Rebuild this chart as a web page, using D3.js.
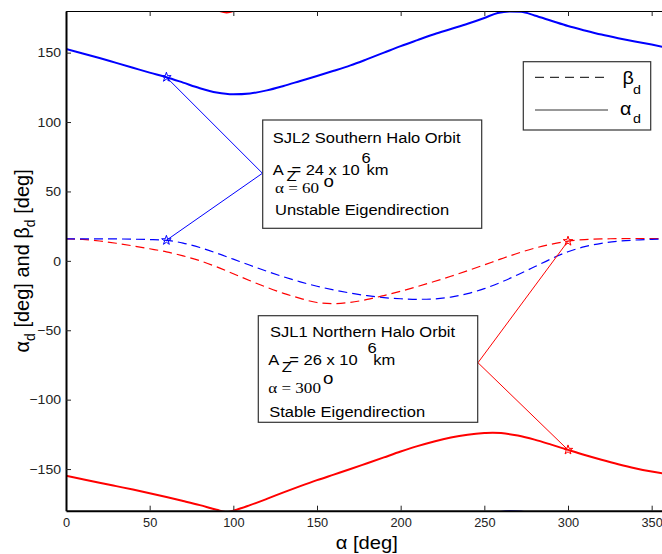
<!DOCTYPE html>
<html><head><meta charset="utf-8">
<script src="https://cdn.jsdelivr.net/npm/d3@7"></script>
<style>body{margin:0;background:#fff}svg{display:block}</style>
</head><body><svg id="c" width="662" height="554"></svg>
<script>
// ---- data ----
const xTicks = [0, 50, 100, 150, 200, 250, 300, 350];
const yTicks = [-150, -100, -50, 0, 50, 100, 150];

// SJL2 southern halo orbit (blue)
const blueAlphaAngles = [0,10,20,30,40,50,60,70,80,90,100,110,120,130,140,150,160,170,180,190,200,210,220,230,240,250,258,265,272,280,290,300,310,320,330,340,350,360];
const blueAlphaD = [152.6,149.4,146.1,142.6,139.1,135.6,132.3,128.4,124.4,121.3,120.0,120.6,122.8,126.0,129.6,133.2,136.9,140.8,145.3,150.0,154.7,159.0,163.2,167.0,170.8,175.0,178.6,179.7,179.4,176.8,173.0,169.2,166.0,163.0,160.4,158.0,155.8,153.4];
const betaAngles = [0,10,20,30,40,50,60,70,80,90,100,110,120,130,140,150,160,170,180,190,200,210,220,230,240,250,260,270,280,290,300,310,320,330,340,350,360];
const blueBetaD = [15.8,15.9,15.9,15.8,15.6,15.3,14.8,12.8,9.6,5.6,1.2,-3.2,-7.5,-11.5,-15.1,-18.3,-20.9,-23.2,-25.1,-26.5,-27.3,-27.7,-27.4,-26.1,-23.6,-20.0,-15.4,-10.0,-4.3,1.5,6.6,10.2,12.6,14.1,15.0,15.5,15.8];

// SJL1 northern halo orbit (red); alpha_d given unwrapped (values below -180 wrap to the top)
const redAlphaAngles = [0,10,20,30,40,50,60,70,80,90,96,102,110,120,130,140,150,160,170,180,190,200,210,220,230,240,250,255,260,270,280,290,300,310,320,330,340,350,360];
const redAlphaD = [-154.8,-157.3,-159.8,-162.3,-164.8,-167.4,-170.1,-173.0,-176.0,-179.3,-181.0,-179.3,-176.0,-171.5,-166.8,-162.3,-158.0,-154.0,-150.0,-145.8,-141.6,-137.4,-133.5,-130.1,-127.3,-125.3,-124.1,-123.8,-124.1,-125.9,-128.8,-132.4,-136.2,-139.9,-143.3,-146.5,-149.4,-151.8,-153.8];
const redBetaD = [15.8,15.4,14.3,12.7,10.8,8.7,6.5,3.6,0.1,-4.3,-9.3,-14.3,-19.1,-23.4,-27.0,-30.0,-30.8,-29.9,-27.8,-25.0,-21.9,-18.5,-14.9,-11.1,-7.1,-2.9,1.4,5.5,9.1,12.0,14.2,15.3,15.8,16.0,16.1,16.1,16.0];

// marked points (alpha = 60 and alpha = 300) and annotation pivots
const blueMarkAngle = 60, blueMarkAlpha = 132.3, blueMarkBeta = 14.8;
const redMarkAngle = 300, redMarkAlpha = -136.2, redMarkBeta = 14.2;
const bluePivot = [117.4, 63.1];
const redPivot = [246.2, -73.4];

// ---- drawing ----
const svg = d3.select("#c");
const x = d3.scaleLinear().domain([0, 360]).range([66, 668.4]);
const y = d3.scaleLinear().domain([-180, 180]).range([510.7, 11]);
const SANS = "'Liberation Sans', Arial, Helvetica, sans-serif";
const SERIF = "'Liberation Serif', 'Times New Roman', serif";
const BLUE = "#0000ff", RED = "#ff0000";

svg.append("defs").append("clipPath").attr("id", "pc")
  .append("rect").attr("x", 66).attr("y", 11).attr("width", 602.4).attr("height", 499.7);
const plot = svg.append("g").attr("clip-path", "url(#pc)");

const line = d3.line().x(d => x(d[0])).y(d => y(d[1])).curve(d3.curveMonotoneX);
function series(angles, vals, shift) { return angles.map((a, i) => [a, vals[i] + shift]); }

// dashed beta curves
plot.append("path").attr("d", line(series(betaAngles, redBetaD, 0)))
  .attr("fill", "none").attr("stroke", RED).attr("stroke-width", 1.2).attr("stroke-dasharray", "9,5");
plot.append("path").attr("d", line(series(betaAngles, blueBetaD, 0)))
  .attr("fill", "none").attr("stroke", BLUE).attr("stroke-width", 1.2).attr("stroke-dasharray", "9,5");
// solid alpha curves (draw wrapped copies at +-360 so the angle wraps at the axis limits)
[0, -360].forEach(s => plot.append("path").attr("d", line(series(blueAlphaAngles, blueAlphaD, s)))
  .attr("fill", "none").attr("stroke", BLUE).attr("stroke-width", 2));
[0, 360].forEach(s => plot.append("path").attr("d", line(series(redAlphaAngles, redAlphaD, s)))
  .attr("fill", "none").attr("stroke", RED).attr("stroke-width", 2));

// annotation lines
function annot(p, a, b, col) {
  plot.append("path").attr("d", d3.line()([[x(a[0]), y(a[1])], [x(p[0]), y(p[1])], [x(b[0]), y(b[1])]]))
    .attr("fill", "none").attr("stroke", col).attr("stroke-width", 1);
}
annot(bluePivot, [blueMarkAngle, blueMarkAlpha], [blueMarkAngle, blueMarkBeta], BLUE);
annot(redPivot, [redMarkAngle, redMarkBeta], [redMarkAngle, redMarkAlpha], RED);

// star markers
const star = d3.symbol().type(d3.symbolStar).size(28);
[[blueMarkAngle, blueMarkAlpha, BLUE], [blueMarkAngle, blueMarkBeta, BLUE],
 [redMarkAngle, redMarkBeta, RED], [redMarkAngle, redMarkAlpha, RED]].forEach(d => {
  plot.append("path").attr("d", star()).attr("transform", `translate(${x(d[0])},${y(d[1])})`)
    .attr("fill", "none").attr("stroke", d[2]).attr("stroke-width", 1);
});

// text helper (reference text is slightly stretched horizontally)
function txt(g, px, py, str, size, opt = {}) {
  const sx = opt.sx || 1.1;
  return g.append("text").attr("transform", `translate(${px},${py}) scale(${sx},1)`)
    .attr("font-family", opt.fam || SANS).attr("font-size", size)
    .attr("text-anchor", opt.anchor || "start").attr("fill", opt.fill || "#000").text(str);
}

// annotation boxes
const ann = svg.append("g");
function box(x0, y0, w, h) {
  ann.append("rect").attr("x", x0).attr("y", y0).attr("width", w).attr("height", h)
    .attr("fill", "#fff").attr("stroke", "#333").attr("stroke-width", 1.2);
}
box(262.7, 120, 219, 108.3);
txt(ann, 272.7, 143.3, "SJL2 Southern Halo Orbit", 15);
txt(ann, 272.7, 175, "A", 15);
txt(ann, 286.5, 180.7, "Z", 15);
txt(ann, 291.5, 175, "= 24 x 10", 15);
txt(ann, 361.5, 163, "6", 15);
txt(ann, 366.5, 175, "km", 15);
txt(ann, 275, 193.3, "\u03B1 = 60", 15.5, {fam: SERIF});
txt(ann, 323.5, 187, "o", 17);
txt(ann, 275, 215, "Unstable Eigendirection", 15);

box(258.3, 315.7, 219.4, 106.6);
txt(ann, 270, 336.7, "SJL1 Northern Halo Orbit", 15);
txt(ann, 268.3, 365, "A", 15);
txt(ann, 281.7, 371.5, "Z", 15);
txt(ann, 289.3, 365, "= 26 x 10", 15);
txt(ann, 367.5, 353.3, "6", 15);
txt(ann, 373.3, 365, "km", 15);
txt(ann, 268.3, 393.3, "\u03B1 = 300", 15.5, {fam: SERIF});
txt(ann, 323, 384, "o", 17);
txt(ann, 269.3, 416.7, "Stable Eigendirection", 15);

// legend
const lg = svg.append("g");
lg.append("rect").attr("x", 523.3).attr("y", 61.7).attr("width", 127.4).attr("height", 68.3)
  .attr("fill", "#fff").attr("stroke", "#333").attr("stroke-width", 1.2);
lg.append("line").attr("x1", 535).attr("x2", 610).attr("y1", 77.3).attr("y2", 77.3)
  .attr("stroke", "#000").attr("stroke-width", 1).attr("stroke-dasharray", "9,6");
lg.append("line").attr("x1", 535).attr("x2", 608).attr("y1", 110).attr("y2", 110)
  .attr("stroke", "#333").attr("stroke-width", 1);
txt(lg, 622.5, 83.5, "\u03B2", 18);
txt(lg, 633, 94, "d", 13);
txt(lg, 620, 115, "\u03B1", 18);
txt(lg, 633, 122.7, "d", 13);

// axes
const ax = svg.append("g");
const xb = ax.append("g").attr("transform", "translate(0,510.7)")
  .call(d3.axisBottom(x).tickValues(xTicks).tickSizeInner(-5).tickSizeOuter(0).tickPadding(7));
const xt = ax.append("g").attr("transform", "translate(0,11)")
  .call(d3.axisTop(x).tickValues(xTicks).tickSizeInner(-5).tickSizeOuter(0).tickFormat(""));
const yl = ax.append("g").attr("transform", "translate(66,0)")
  .call(d3.axisLeft(y).tickValues(yTicks).tickSizeInner(-5).tickSizeOuter(0).tickPadding(5)
    .tickFormat(d => d < 0 ? "\u2212" + Math.abs(d) : d));
[xb, yl].forEach(g => g.select(".domain").attr("stroke", "#000").attr("stroke-width", 2));
xt.select(".domain").attr("stroke", "#000").attr("stroke-width", 1.2);
ax.selectAll(".tick line").attr("stroke", "#222").attr("stroke-width", 1);
ax.selectAll(".tick text").attr("font-family", SANS).attr("fill", "#222");
xb.selectAll(".tick text").attr("font-size", 12.8).attr("x", 0);
yl.selectAll(".tick text").attr("font-size", 13).attr("transform", "scale(1.08,1)").attr("x", -5 / 1.08);

// axis titles
const xl = svg.append("text").attr("transform", "translate(366.7,549) scale(1.12,1)")
  .attr("font-family", SANS).attr("font-size", 18).attr("text-anchor", "middle");
xl.append("tspan").text("\u03B1 [deg]");

const ylab = svg.append("text").attr("transform", "translate(29,260.9) rotate(-90)")
  .attr("font-family", SANS).attr("font-size", 20).attr("text-anchor", "middle");
ylab.append("tspan").text("\u03B1");
ylab.append("tspan").attr("font-size", 14).attr("dy", 6).text("d");
ylab.append("tspan").attr("dy", -6).text(" [deg] and \u03B2");
ylab.append("tspan").attr("font-size", 14).attr("dy", 6).text("d");
ylab.append("tspan").attr("dy", -6).text(" [deg]");
</script></body></html>
